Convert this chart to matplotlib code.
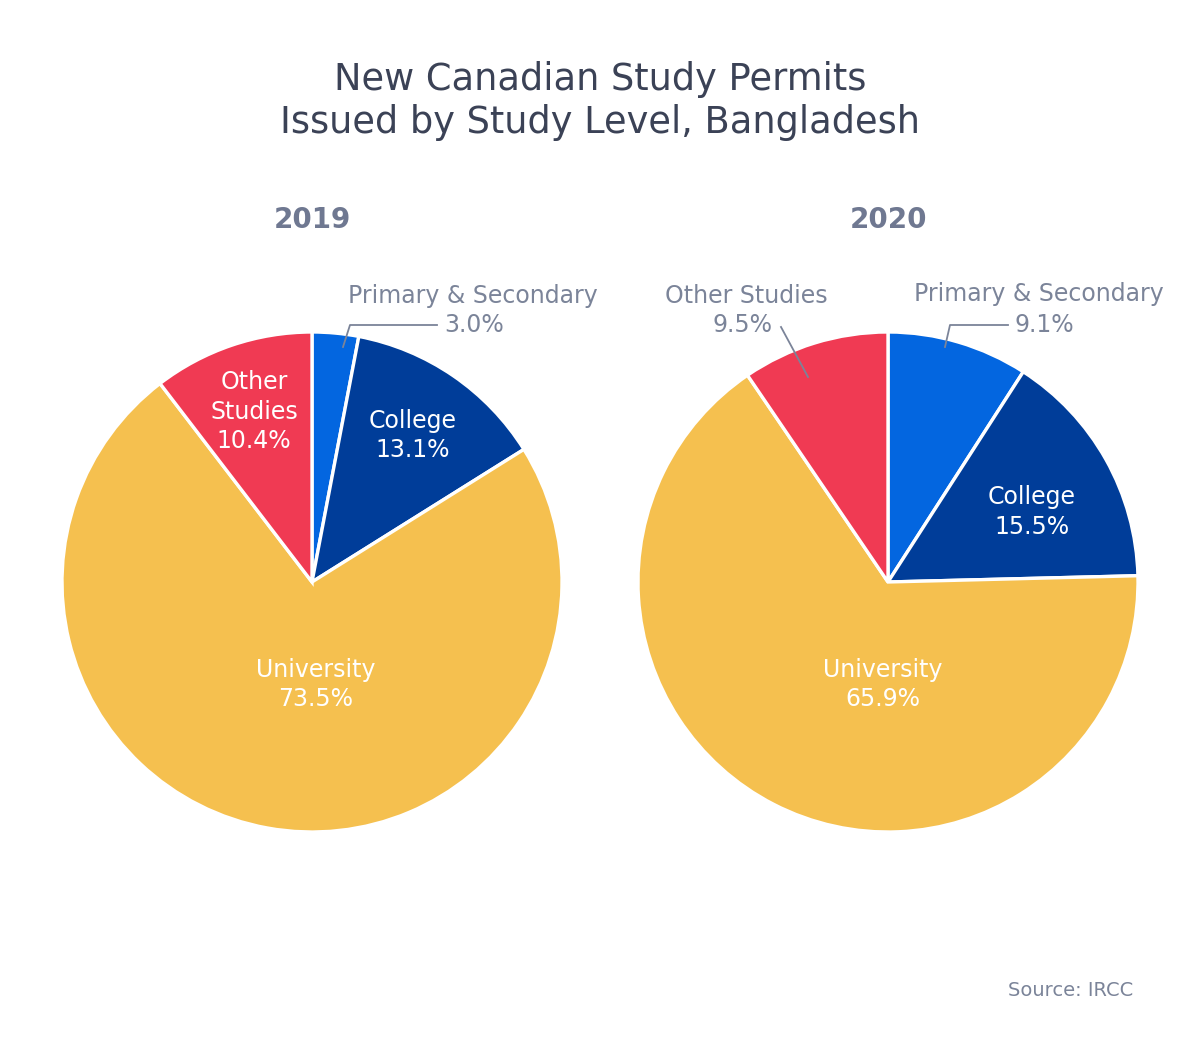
import matplotlib

matplotlib.use("Agg")
import matplotlib.pyplot as plt
import numpy as np

plt.rcParams["font.family"] = ["DejaVu Sans"]

# data
categories = ["Primary & Secondary", "College", "University", "Other Studies"]
share_2019 = [3.0, 13.1, 73.5, 10.4]
share_2020 = [9.1, 15.5, 65.9, 9.5]
colors = ["#0366e0", "#003d99", "#f5c04f", "#f03a53"]

W, H = 1200, 1056
TITLE_C = "#3b4256"
GRAY = "#7b8499"
FS = 17

fig = plt.figure(figsize=(W / 100, H / 100), dpi=100)
ax = fig.add_axes([0, 0, 1, 1])


def Y(py):
    return H - py


def draw_pie(values, cx, cy, r, inside):
    wedges, _ = ax.pie(values, colors=colors, startangle=90, counterclock=False,
                       center=(cx, Y(cy)), radius=r, frame=True,
                       wedgeprops=dict(edgecolor="white", linewidth=2.4))
    for w, cat in zip(wedges, categories):
        if cat in inside:
            f, ang, text = inside[cat]
            mid = np.deg2rad((w.theta1 + w.theta2) / 2 if ang is None else ang)
            ax.text(cx + f * r * np.cos(mid), Y(cy) + f * r * np.sin(mid), text,
                    ha="center", va="center", color="white", fontsize=FS,
                    linespacing=1.3)


# title
ax.text(600, Y(101), "New Canadian Study Permits\nIssued by Study Level, Bangladesh",
        ha="center", va="center", fontsize=26.5, color=TITLE_C, linespacing=1.2)
ax.text(312, Y(220), "2019", ha="center", va="center", fontsize=20,
        fontweight="bold", color="#6f7891")
ax.text(888, Y(220), "2020", ha="center", va="center", fontsize=20,
        fontweight="bold", color="#6f7891")

draw_pie(share_2019, 312, 582, 250,
         inside={"College": (0.71, None, f"College\n{share_2019[1]:.1f}%"),
                 "University": (0.41, -88, f"University\n{share_2019[2]:.1f}%"),
                 "Other Studies": (0.72, None, f"Other\nStudies\n{share_2019[3]:.1f}%")})

draw_pie(share_2020, 888, 582, 250,
         inside={"College": (0.64, 26, f"College\n{share_2020[1]:.1f}%"),
                 "University": (0.41, -93, f"University\n{share_2020[2]:.1f}%")})

# outside labels with leader lines
ax.plot([343, 350, 437], [Y(347), Y(325), Y(325)], color=GRAY, lw=1.3)
ax.text(444, Y(325), f"{share_2019[0]:.1f}%", ha="left", va="center", fontsize=FS, color=GRAY)
ax.text(473, Y(296), categories[0], ha="center", va="center", fontsize=FS, color=GRAY)

ax.plot([945, 950, 1008], [Y(347), Y(325), Y(325)], color=GRAY, lw=1.3)
ax.text(1015, Y(325), f"{share_2020[0]:.1f}%", ha="left", va="center", fontsize=FS, color=GRAY)
ax.text(1039, Y(294), categories[0], ha="center", va="center", fontsize=FS, color=GRAY)

ax.plot([808, 781], [Y(377), Y(327)], color=GRAY, lw=1.3)
ax.text(746, Y(296), categories[3], ha="center", va="center", fontsize=FS, color=GRAY)
ax.text(772, Y(325), f"{share_2020[3]:.1f}%", ha="right", va="center", fontsize=FS, color=GRAY)

ax.text(1133, Y(990), "Source: IRCC", ha="right", va="center", fontsize=14, color=GRAY)

ax.set_xlim(0, W)
ax.set_ylim(0, H)
ax.set_aspect("equal")
ax.axis("off")

fig.savefig("out.png", dpi=100, facecolor="white")
